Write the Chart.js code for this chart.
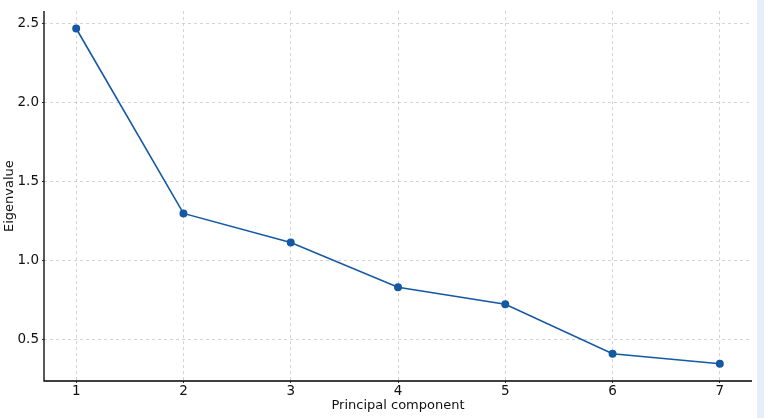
<!DOCTYPE html>
<html>
<head>
<meta charset="utf-8">
<script src="https://cdn.jsdelivr.net/npm/chart.js@4/dist/chart.umd.min.js"></script>
<style>
  html, body { margin: 0; padding: 0; background: #fff; }
  #wrap { position: relative; width: 764px; height: 418px; }
  #edge { position: absolute; left: 757px; top: 0; width: 7px; height: 418px; background: #e6eef9; }
  canvas { position: absolute; left: 0; top: 0; }
</style>
</head>
<body>
<div id="wrap">
  <canvas id="scree" width="757" height="418"></canvas>
  <div id="edge"></div>
</div>
<script>
// scree plot values
const components = [1, 2, 3, 4, 5, 6, 7];
const eigenvalues = [2.47, 1.30, 1.116, 0.833, 0.726, 0.412, 0.349];
const xTicks = [1, 2, 3, 4, 5, 6, 7];
const yTicks = [0.5, 1.0, 1.5, 2.0, 2.5];

const LINE = '#1559a3';
const FONT = 'DejaVu Sans';

const points = components.map((c, i) => ({ x: c, y: eigenvalues[i] }));

// axis line drawn solid by hand; grid dashes come from border.dash
const solidAxes = {
  id: 'solidAxes',
  afterDraw(chart) {
    const { ctx, chartArea: a } = chart;
    ctx.save();
    ctx.setLineDash([]);
    ctx.strokeStyle = '#000';
    ctx.lineWidth = 1.3;
    ctx.beginPath();
    ctx.moveTo(a.left, a.top);
    ctx.lineTo(a.left, a.bottom);
    ctx.lineTo(a.right, a.bottom);
    ctx.stroke();
    ctx.restore();
  }
};

new Chart(document.getElementById('scree'), {
  type: 'line',
  data: {
    datasets: [{
      data: points,
      borderColor: LINE,
      backgroundColor: LINE,
      borderWidth: 1.6,
      pointRadius: 3.2,
      pointHoverRadius: 3.2,
      tension: 0
    }]
  },
  options: {
    responsive: false,
    animation: false,
    layout: { padding: { top: 10, right: 5, left: 0, bottom: 0 } },
    plugins: { legend: { display: false }, tooltip: { enabled: false } },
    scales: {
      x: {
        type: 'linear',
        min: 0.7, max: 7.3,
        afterBuildTicks: ax => { ax.ticks = xTicks.map(v => ({ value: v })); },
        afterFit: ax => { ax.height = 37; },
        border: { display: false, dash: [3, 3] },
        grid: { color: '#c8c8c8', lineWidth: 0.8, tickColor: '#000', tickLength: 2 },
        ticks: { color: '#111', font: { family: FONT, size: 13.5 }, padding: 0, maxRotation: 0 },
        title: { display: true, text: 'Principal component', color: '#111', font: { family: FONT, size: 13 }, padding: { top: 0, bottom: 5 } }
      },
      y: {
        min: 0.24, max: 2.58,
        afterBuildTicks: ax => { ax.ticks = yTicks.map(v => ({ value: v })); },
        afterFit: ax => { ax.width = 44; },
        border: { display: false, dash: [3, 3] },
        grid: { color: '#c8c8c8', lineWidth: 0.8, tickColor: '#000', tickLength: 2 },
        ticks: { color: '#111', font: { family: FONT, size: 13.5 }, padding: 3, callback: v => v.toFixed(1) },
        title: { display: true, text: 'Eigenvalue', color: '#111', font: { family: FONT, size: 13 }, padding: { top: 2, bottom: 0 } }
      }
    }
  },
  plugins: [solidAxes]
});
</script>
</body>
</html>
